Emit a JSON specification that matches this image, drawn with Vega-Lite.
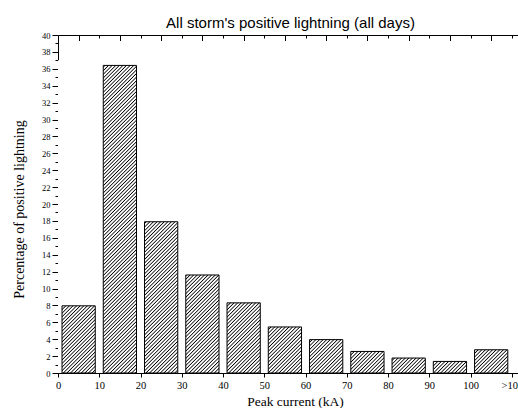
{
"$schema": "https://vega.github.io/schema/vega-lite/v6.json",
"width": 460,
"height": 338,
"autosize": {"type": "none"},
"padding": {"left": 58, "top": 35, "right": 0, "bottom": 35},
"title": {"text": "All storm's positive lightning (all days)", "font": "Liberation Sans", "fontSize": 15, "fontWeight": "normal", "color": "#000", "anchor": "middle", "frame": "group", "baseline": "alphabetic", "offset": 9, "dx": 2.5, "dy": 21},
"config": {"view": {"stroke": null}, "axis": {"zindex": 1, "grid": false, "domainColor": "#000", "tickColor": "#000", "labelColor": "#000", "titleColor": "#000", "domainWidth": 1, "tickWidth": 1}},
"data": {"values": [
{"start": 0, "end": 10, "pct": 7.95},
{"start": 10, "end": 20, "pct": 36.4},
{"start": 20, "end": 30, "pct": 17.9},
{"start": 30, "end": 40, "pct": 11.6},
{"start": 40, "end": 50, "pct": 8.3},
{"start": 50, "end": 60, "pct": 5.45},
{"start": 60, "end": 70, "pct": 3.95},
{"start": 70, "end": 80, "pct": 2.55},
{"start": 80, "end": 90, "pct": 1.77},
{"start": 90, "end": 100, "pct": 1.37},
{"start": 100, "end": 110, "pct": 2.75}
]},
"resolve": {"axis": {"x": "independent", "y": "independent"}},
"layer": [
{
"data": {"values": [{}]},
"mark": {"type": "rect", "stroke": null, "clip": true, "fill": {"gradient": "linear", "x1": 0, "y1": 0, "x2": 1.16712, "y2": 0.73442, "stops": [
{"offset":0.0540,"color":"#fff"},{"offset":0.0554,"color":"#000"},{"offset":0.0568,"color":"#fff"},
{"offset":0.0585,"color":"#fff"},{"offset":0.0599,"color":"#000"},{"offset":0.0613,"color":"#fff"},
{"offset":0.0630,"color":"#fff"},{"offset":0.0644,"color":"#000"},{"offset":0.0658,"color":"#fff"},
{"offset":0.0675,"color":"#fff"},{"offset":0.0689,"color":"#000"},{"offset":0.0703,"color":"#fff"},
{"offset":0.0720,"color":"#fff"},{"offset":0.0734,"color":"#000"},{"offset":0.0748,"color":"#fff"},
{"offset":0.0765,"color":"#fff"},{"offset":0.0779,"color":"#000"},{"offset":0.0793,"color":"#fff"},
{"offset":0.0810,"color":"#fff"},{"offset":0.0824,"color":"#000"},{"offset":0.0838,"color":"#fff"},
{"offset":0.0855,"color":"#fff"},{"offset":0.0869,"color":"#000"},{"offset":0.0883,"color":"#fff"},
{"offset":0.0900,"color":"#fff"},{"offset":0.0914,"color":"#000"},{"offset":0.0928,"color":"#fff"},
{"offset":0.0945,"color":"#fff"},{"offset":0.0959,"color":"#000"},{"offset":0.0973,"color":"#fff"},
{"offset":0.0990,"color":"#fff"},{"offset":0.1004,"color":"#000"},{"offset":0.1018,"color":"#fff"},
{"offset":0.1035,"color":"#fff"},{"offset":0.1049,"color":"#000"},{"offset":0.1063,"color":"#fff"},
{"offset":0.1080,"color":"#fff"},{"offset":0.1094,"color":"#000"},{"offset":0.1108,"color":"#fff"},
{"offset":0.1125,"color":"#fff"},{"offset":0.1139,"color":"#000"},{"offset":0.1153,"color":"#fff"},
{"offset":0.1170,"color":"#fff"},{"offset":0.1184,"color":"#000"},{"offset":0.1198,"color":"#fff"},
{"offset":0.1215,"color":"#fff"},{"offset":0.1229,"color":"#000"},{"offset":0.1243,"color":"#fff"},
{"offset":0.1260,"color":"#fff"},{"offset":0.1274,"color":"#000"},{"offset":0.1288,"color":"#fff"},
{"offset":0.1305,"color":"#fff"},{"offset":0.1319,"color":"#000"},{"offset":0.1333,"color":"#fff"},
{"offset":0.1350,"color":"#fff"},{"offset":0.1364,"color":"#000"},{"offset":0.1378,"color":"#fff"},
{"offset":0.1395,"color":"#fff"},{"offset":0.1409,"color":"#000"},{"offset":0.1423,"color":"#fff"},
{"offset":0.1440,"color":"#fff"},{"offset":0.1454,"color":"#000"},{"offset":0.1468,"color":"#fff"},
{"offset":0.1485,"color":"#fff"},{"offset":0.1499,"color":"#000"},{"offset":0.1513,"color":"#fff"},
{"offset":0.1530,"color":"#fff"},{"offset":0.1544,"color":"#000"},{"offset":0.1558,"color":"#fff"},
{"offset":0.1575,"color":"#fff"},{"offset":0.1589,"color":"#000"},{"offset":0.1603,"color":"#fff"},
{"offset":0.1620,"color":"#fff"},{"offset":0.1634,"color":"#000"},{"offset":0.1648,"color":"#fff"},
{"offset":0.1665,"color":"#fff"},{"offset":0.1679,"color":"#000"},{"offset":0.1693,"color":"#fff"},
{"offset":0.1710,"color":"#fff"},{"offset":0.1724,"color":"#000"},{"offset":0.1738,"color":"#fff"},
{"offset":0.1755,"color":"#fff"},{"offset":0.1769,"color":"#000"},{"offset":0.1783,"color":"#fff"},
{"offset":0.1800,"color":"#fff"},{"offset":0.1814,"color":"#000"},{"offset":0.1828,"color":"#fff"},
{"offset":0.1845,"color":"#fff"},{"offset":0.1859,"color":"#000"},{"offset":0.1873,"color":"#fff"},
{"offset":0.1890,"color":"#fff"},{"offset":0.1904,"color":"#000"},{"offset":0.1918,"color":"#fff"},
{"offset":0.1935,"color":"#fff"},{"offset":0.1949,"color":"#000"},{"offset":0.1963,"color":"#fff"},
{"offset":0.1980,"color":"#fff"},{"offset":0.1994,"color":"#000"},{"offset":0.2008,"color":"#fff"},
{"offset":0.2025,"color":"#fff"},{"offset":0.2039,"color":"#000"},{"offset":0.2053,"color":"#fff"},
{"offset":0.2070,"color":"#fff"},{"offset":0.2084,"color":"#000"},{"offset":0.2098,"color":"#fff"},
{"offset":0.2115,"color":"#fff"},{"offset":0.2129,"color":"#000"},{"offset":0.2143,"color":"#fff"},
{"offset":0.2160,"color":"#fff"},{"offset":0.2174,"color":"#000"},{"offset":0.2188,"color":"#fff"},
{"offset":0.2205,"color":"#fff"},{"offset":0.2219,"color":"#000"},{"offset":0.2233,"color":"#fff"},
{"offset":0.2250,"color":"#fff"},{"offset":0.2264,"color":"#000"},{"offset":0.2278,"color":"#fff"},
{"offset":0.2295,"color":"#fff"},{"offset":0.2309,"color":"#000"},{"offset":0.2323,"color":"#fff"},
{"offset":0.2340,"color":"#fff"},{"offset":0.2354,"color":"#000"},{"offset":0.2368,"color":"#fff"},
{"offset":0.2385,"color":"#fff"},{"offset":0.2399,"color":"#000"},{"offset":0.2413,"color":"#fff"},
{"offset":0.2430,"color":"#fff"},{"offset":0.2444,"color":"#000"},{"offset":0.2458,"color":"#fff"},
{"offset":0.2475,"color":"#fff"},{"offset":0.2489,"color":"#000"},{"offset":0.2503,"color":"#fff"},
{"offset":0.2520,"color":"#fff"},{"offset":0.2534,"color":"#000"},{"offset":0.2548,"color":"#fff"},
{"offset":0.2565,"color":"#fff"},{"offset":0.2579,"color":"#000"},{"offset":0.2593,"color":"#fff"},
{"offset":0.2610,"color":"#fff"},{"offset":0.2624,"color":"#000"},{"offset":0.2638,"color":"#fff"},
{"offset":0.2655,"color":"#fff"},{"offset":0.2669,"color":"#000"},{"offset":0.2683,"color":"#fff"},
{"offset":0.2700,"color":"#fff"},{"offset":0.2714,"color":"#000"},{"offset":0.2728,"color":"#fff"},
{"offset":0.2745,"color":"#fff"},{"offset":0.2759,"color":"#000"},{"offset":0.2773,"color":"#fff"},
{"offset":0.2790,"color":"#fff"},{"offset":0.2804,"color":"#000"},{"offset":0.2818,"color":"#fff"},
{"offset":0.2835,"color":"#fff"},{"offset":0.2849,"color":"#000"},{"offset":0.2863,"color":"#fff"},
{"offset":0.2880,"color":"#fff"},{"offset":0.2894,"color":"#000"},{"offset":0.2908,"color":"#fff"},
{"offset":0.2925,"color":"#fff"},{"offset":0.2939,"color":"#000"},{"offset":0.2953,"color":"#fff"},
{"offset":0.2970,"color":"#fff"},{"offset":0.2984,"color":"#000"},{"offset":0.2998,"color":"#fff"},
{"offset":0.3015,"color":"#fff"},{"offset":0.3029,"color":"#000"},{"offset":0.3043,"color":"#fff"},
{"offset":0.3060,"color":"#fff"},{"offset":0.3074,"color":"#000"},{"offset":0.3088,"color":"#fff"},
{"offset":0.3105,"color":"#fff"},{"offset":0.3119,"color":"#000"},{"offset":0.3133,"color":"#fff"},
{"offset":0.3150,"color":"#fff"},{"offset":0.3164,"color":"#000"},{"offset":0.3178,"color":"#fff"},
{"offset":0.3195,"color":"#fff"},{"offset":0.3209,"color":"#000"},{"offset":0.3223,"color":"#fff"},
{"offset":0.3240,"color":"#fff"},{"offset":0.3254,"color":"#000"},{"offset":0.3268,"color":"#fff"},
{"offset":0.3285,"color":"#fff"},{"offset":0.3299,"color":"#000"},{"offset":0.3313,"color":"#fff"},
{"offset":0.3330,"color":"#fff"},{"offset":0.3344,"color":"#000"},{"offset":0.3358,"color":"#fff"},
{"offset":0.3375,"color":"#fff"},{"offset":0.3389,"color":"#000"},{"offset":0.3403,"color":"#fff"},
{"offset":0.3420,"color":"#fff"},{"offset":0.3434,"color":"#000"},{"offset":0.3448,"color":"#fff"},
{"offset":0.3465,"color":"#fff"},{"offset":0.3479,"color":"#000"},{"offset":0.3493,"color":"#fff"},
{"offset":0.3510,"color":"#fff"},{"offset":0.3524,"color":"#000"},{"offset":0.3538,"color":"#fff"},
{"offset":0.3555,"color":"#fff"},{"offset":0.3569,"color":"#000"},{"offset":0.3583,"color":"#fff"},
{"offset":0.3600,"color":"#fff"},{"offset":0.3614,"color":"#000"},{"offset":0.3628,"color":"#fff"},
{"offset":0.3645,"color":"#fff"},{"offset":0.3659,"color":"#000"},{"offset":0.3673,"color":"#fff"},
{"offset":0.3690,"color":"#fff"},{"offset":0.3704,"color":"#000"},{"offset":0.3718,"color":"#fff"},
{"offset":0.3735,"color":"#fff"},{"offset":0.3749,"color":"#000"},{"offset":0.3763,"color":"#fff"},
{"offset":0.3780,"color":"#fff"},{"offset":0.3794,"color":"#000"},{"offset":0.3808,"color":"#fff"},
{"offset":0.3825,"color":"#fff"},{"offset":0.3839,"color":"#000"},{"offset":0.3853,"color":"#fff"},
{"offset":0.3870,"color":"#fff"},{"offset":0.3884,"color":"#000"},{"offset":0.3898,"color":"#fff"},
{"offset":0.3915,"color":"#fff"},{"offset":0.3929,"color":"#000"},{"offset":0.3943,"color":"#fff"},
{"offset":0.3960,"color":"#fff"},{"offset":0.3974,"color":"#000"},{"offset":0.3988,"color":"#fff"},
{"offset":0.4005,"color":"#fff"},{"offset":0.4019,"color":"#000"},{"offset":0.4033,"color":"#fff"},
{"offset":0.4050,"color":"#fff"},{"offset":0.4064,"color":"#000"},{"offset":0.4078,"color":"#fff"},
{"offset":0.4095,"color":"#fff"},{"offset":0.4109,"color":"#000"},{"offset":0.4123,"color":"#fff"},
{"offset":0.4140,"color":"#fff"},{"offset":0.4154,"color":"#000"},{"offset":0.4168,"color":"#fff"},
{"offset":0.4185,"color":"#fff"},{"offset":0.4199,"color":"#000"},{"offset":0.4213,"color":"#fff"},
{"offset":0.4230,"color":"#fff"},{"offset":0.4244,"color":"#000"},{"offset":0.4258,"color":"#fff"},
{"offset":0.4275,"color":"#fff"},{"offset":0.4289,"color":"#000"},{"offset":0.4303,"color":"#fff"},
{"offset":0.4320,"color":"#fff"},{"offset":0.4334,"color":"#000"},{"offset":0.4348,"color":"#fff"},
{"offset":0.4365,"color":"#fff"},{"offset":0.4379,"color":"#000"},{"offset":0.4393,"color":"#fff"},
{"offset":0.4410,"color":"#fff"},{"offset":0.4424,"color":"#000"},{"offset":0.4438,"color":"#fff"},
{"offset":0.4455,"color":"#fff"},{"offset":0.4469,"color":"#000"},{"offset":0.4483,"color":"#fff"},
{"offset":0.4500,"color":"#fff"},{"offset":0.4514,"color":"#000"},{"offset":0.4528,"color":"#fff"},
{"offset":0.4545,"color":"#fff"},{"offset":0.4559,"color":"#000"},{"offset":0.4573,"color":"#fff"},
{"offset":0.4590,"color":"#fff"},{"offset":0.4604,"color":"#000"},{"offset":0.4618,"color":"#fff"},
{"offset":0.4635,"color":"#fff"},{"offset":0.4649,"color":"#000"},{"offset":0.4663,"color":"#fff"},
{"offset":0.4680,"color":"#fff"},{"offset":0.4694,"color":"#000"},{"offset":0.4708,"color":"#fff"},
{"offset":0.4725,"color":"#fff"},{"offset":0.4739,"color":"#000"},{"offset":0.4753,"color":"#fff"},
{"offset":0.4770,"color":"#fff"},{"offset":0.4784,"color":"#000"},{"offset":0.4798,"color":"#fff"},
{"offset":0.4815,"color":"#fff"},{"offset":0.4829,"color":"#000"},{"offset":0.4843,"color":"#fff"},
{"offset":0.4860,"color":"#fff"},{"offset":0.4874,"color":"#000"},{"offset":0.4888,"color":"#fff"},
{"offset":0.4905,"color":"#fff"},{"offset":0.4919,"color":"#000"},{"offset":0.4933,"color":"#fff"},
{"offset":0.4950,"color":"#fff"},{"offset":0.4964,"color":"#000"},{"offset":0.4978,"color":"#fff"},
{"offset":0.4995,"color":"#fff"},{"offset":0.5009,"color":"#000"},{"offset":0.5023,"color":"#fff"},
{"offset":0.5040,"color":"#fff"},{"offset":0.5054,"color":"#000"},{"offset":0.5068,"color":"#fff"},
{"offset":0.5085,"color":"#fff"},{"offset":0.5099,"color":"#000"},{"offset":0.5113,"color":"#fff"},
{"offset":0.5130,"color":"#fff"},{"offset":0.5144,"color":"#000"},{"offset":0.5158,"color":"#fff"},
{"offset":0.5175,"color":"#fff"},{"offset":0.5189,"color":"#000"},{"offset":0.5203,"color":"#fff"},
{"offset":0.5220,"color":"#fff"},{"offset":0.5234,"color":"#000"},{"offset":0.5248,"color":"#fff"},
{"offset":0.5265,"color":"#fff"},{"offset":0.5279,"color":"#000"},{"offset":0.5293,"color":"#fff"},
{"offset":0.5310,"color":"#fff"},{"offset":0.5324,"color":"#000"},{"offset":0.5338,"color":"#fff"},
{"offset":0.5355,"color":"#fff"},{"offset":0.5369,"color":"#000"},{"offset":0.5383,"color":"#fff"},
{"offset":0.5400,"color":"#fff"},{"offset":0.5414,"color":"#000"},{"offset":0.5428,"color":"#fff"},
{"offset":0.5445,"color":"#fff"},{"offset":0.5459,"color":"#000"},{"offset":0.5473,"color":"#fff"},
{"offset":0.5490,"color":"#fff"},{"offset":0.5504,"color":"#000"},{"offset":0.5518,"color":"#fff"},
{"offset":0.5535,"color":"#fff"},{"offset":0.5549,"color":"#000"},{"offset":0.5563,"color":"#fff"},
{"offset":0.5580,"color":"#fff"},{"offset":0.5594,"color":"#000"},{"offset":0.5608,"color":"#fff"},
{"offset":0.5625,"color":"#fff"},{"offset":0.5639,"color":"#000"},{"offset":0.5653,"color":"#fff"},
{"offset":0.5670,"color":"#fff"},{"offset":0.5684,"color":"#000"},{"offset":0.5698,"color":"#fff"},
{"offset":0.5715,"color":"#fff"},{"offset":0.5729,"color":"#000"},{"offset":0.5743,"color":"#fff"},
{"offset":0.5760,"color":"#fff"},{"offset":0.5774,"color":"#000"},{"offset":0.5788,"color":"#fff"},
{"offset":0.5805,"color":"#fff"},{"offset":0.5819,"color":"#000"},{"offset":0.5833,"color":"#fff"},
{"offset":0.5850,"color":"#fff"},{"offset":0.5864,"color":"#000"},{"offset":0.5878,"color":"#fff"},
{"offset":0.5895,"color":"#fff"},{"offset":0.5909,"color":"#000"},{"offset":0.5923,"color":"#fff"},
{"offset":0.5940,"color":"#fff"},{"offset":0.5954,"color":"#000"},{"offset":0.5968,"color":"#fff"},
{"offset":0.5985,"color":"#fff"},{"offset":0.5999,"color":"#000"},{"offset":0.6013,"color":"#fff"},
{"offset":0.6030,"color":"#fff"},{"offset":0.6044,"color":"#000"},{"offset":0.6058,"color":"#fff"},
{"offset":0.6075,"color":"#fff"},{"offset":0.6089,"color":"#000"},{"offset":0.6103,"color":"#fff"},
{"offset":0.6120,"color":"#fff"},{"offset":0.6134,"color":"#000"},{"offset":0.6148,"color":"#fff"},
{"offset":0.6165,"color":"#fff"},{"offset":0.6179,"color":"#000"},{"offset":0.6193,"color":"#fff"},
{"offset":0.6210,"color":"#fff"},{"offset":0.6224,"color":"#000"},{"offset":0.6238,"color":"#fff"},
{"offset":0.6255,"color":"#fff"},{"offset":0.6269,"color":"#000"},{"offset":0.6283,"color":"#fff"},
{"offset":0.6300,"color":"#fff"},{"offset":0.6314,"color":"#000"},{"offset":0.6328,"color":"#fff"},
{"offset":0.6345,"color":"#fff"},{"offset":0.6359,"color":"#000"},{"offset":0.6373,"color":"#fff"},
{"offset":0.6390,"color":"#fff"},{"offset":0.6404,"color":"#000"},{"offset":0.6418,"color":"#fff"},
{"offset":0.6435,"color":"#fff"},{"offset":0.6449,"color":"#000"},{"offset":0.6463,"color":"#fff"},
{"offset":0.6480,"color":"#fff"},{"offset":0.6494,"color":"#000"},{"offset":0.6508,"color":"#fff"},
{"offset":0.6525,"color":"#fff"},{"offset":0.6539,"color":"#000"},{"offset":0.6553,"color":"#fff"},
{"offset":0.6570,"color":"#fff"},{"offset":0.6584,"color":"#000"},{"offset":0.6598,"color":"#fff"},
{"offset":0.6615,"color":"#fff"},{"offset":0.6629,"color":"#000"},{"offset":0.6643,"color":"#fff"},
{"offset":0.6660,"color":"#fff"},{"offset":0.6674,"color":"#000"},{"offset":0.6688,"color":"#fff"},
{"offset":0.6705,"color":"#fff"},{"offset":0.6719,"color":"#000"},{"offset":0.6733,"color":"#fff"},
{"offset":0.6750,"color":"#fff"},{"offset":0.6764,"color":"#000"},{"offset":0.6778,"color":"#fff"},
{"offset":0.6795,"color":"#fff"},{"offset":0.6809,"color":"#000"},{"offset":0.6823,"color":"#fff"},
{"offset":0.6840,"color":"#fff"},{"offset":0.6854,"color":"#000"},{"offset":0.6868,"color":"#fff"},
{"offset":0.6885,"color":"#fff"},{"offset":0.6899,"color":"#000"},{"offset":0.6913,"color":"#fff"},
{"offset":0.6930,"color":"#fff"},{"offset":0.6944,"color":"#000"},{"offset":0.6958,"color":"#fff"},
{"offset":0.6975,"color":"#fff"},{"offset":0.6989,"color":"#000"},{"offset":0.7003,"color":"#fff"},
{"offset":0.7020,"color":"#fff"},{"offset":0.7034,"color":"#000"},{"offset":0.7048,"color":"#fff"},
{"offset":0.7065,"color":"#fff"},{"offset":0.7079,"color":"#000"},{"offset":0.7093,"color":"#fff"},
{"offset":0.7110,"color":"#fff"},{"offset":0.7124,"color":"#000"},{"offset":0.7138,"color":"#fff"},
{"offset":0.7155,"color":"#fff"},{"offset":0.7169,"color":"#000"},{"offset":0.7183,"color":"#fff"},
{"offset":0.7200,"color":"#fff"},{"offset":0.7214,"color":"#000"},{"offset":0.7228,"color":"#fff"},
{"offset":0.7245,"color":"#fff"},{"offset":0.7259,"color":"#000"},{"offset":0.7273,"color":"#fff"},
{"offset":0.7290,"color":"#fff"},{"offset":0.7304,"color":"#000"},{"offset":0.7318,"color":"#fff"},
{"offset":0.7335,"color":"#fff"},{"offset":0.7349,"color":"#000"},{"offset":0.7363,"color":"#fff"},
{"offset":0.7380,"color":"#fff"},{"offset":0.7394,"color":"#000"},{"offset":0.7408,"color":"#fff"},
{"offset":0.7425,"color":"#fff"},{"offset":0.7439,"color":"#000"},{"offset":0.7453,"color":"#fff"},
{"offset":0.7470,"color":"#fff"},{"offset":0.7484,"color":"#000"},{"offset":0.7498,"color":"#fff"},
{"offset":0.7515,"color":"#fff"},{"offset":0.7529,"color":"#000"},{"offset":0.7543,"color":"#fff"},
{"offset":0.7560,"color":"#fff"},{"offset":0.7574,"color":"#000"},{"offset":0.7588,"color":"#fff"},
{"offset":0.7605,"color":"#fff"},{"offset":0.7619,"color":"#000"},{"offset":0.7633,"color":"#fff"},
{"offset":0.7650,"color":"#fff"},{"offset":0.7664,"color":"#000"},{"offset":0.7678,"color":"#fff"},
{"offset":0.7695,"color":"#fff"},{"offset":0.7709,"color":"#000"},{"offset":0.7723,"color":"#fff"},
{"offset":0.7740,"color":"#fff"},{"offset":0.7754,"color":"#000"},{"offset":0.7768,"color":"#fff"},
{"offset":0.7785,"color":"#fff"},{"offset":0.7799,"color":"#000"},{"offset":0.7813,"color":"#fff"},
{"offset":0.7830,"color":"#fff"},{"offset":0.7844,"color":"#000"},{"offset":0.7858,"color":"#fff"},
{"offset":0.7875,"color":"#fff"},{"offset":0.7889,"color":"#000"},{"offset":0.7903,"color":"#fff"},
{"offset":0.7920,"color":"#fff"},{"offset":0.7934,"color":"#000"},{"offset":0.7948,"color":"#fff"},
{"offset":0.7965,"color":"#fff"},{"offset":0.7979,"color":"#000"},{"offset":0.7993,"color":"#fff"},
{"offset":0.8010,"color":"#fff"},{"offset":0.8024,"color":"#000"},{"offset":0.8038,"color":"#fff"},
{"offset":0.8055,"color":"#fff"},{"offset":0.8069,"color":"#000"},{"offset":0.8083,"color":"#fff"},
{"offset":0.8100,"color":"#fff"},{"offset":0.8114,"color":"#000"},{"offset":0.8128,"color":"#fff"},
{"offset":0.8145,"color":"#fff"},{"offset":0.8159,"color":"#000"},{"offset":0.8173,"color":"#fff"},
{"offset":0.8190,"color":"#fff"},{"offset":0.8204,"color":"#000"},{"offset":0.8218,"color":"#fff"},
{"offset":0.8235,"color":"#fff"},{"offset":0.8249,"color":"#000"},{"offset":0.8263,"color":"#fff"},
{"offset":0.8280,"color":"#fff"},{"offset":0.8294,"color":"#000"},{"offset":0.8308,"color":"#fff"},
{"offset":0.8325,"color":"#fff"},{"offset":0.8339,"color":"#000"},{"offset":0.8353,"color":"#fff"},
{"offset":0.8370,"color":"#fff"},{"offset":0.8384,"color":"#000"},{"offset":0.8398,"color":"#fff"},
{"offset":0.8415,"color":"#fff"},{"offset":0.8429,"color":"#000"},{"offset":0.8443,"color":"#fff"},
{"offset":0.8460,"color":"#fff"},{"offset":0.8474,"color":"#000"},{"offset":0.8488,"color":"#fff"},
{"offset":0.8505,"color":"#fff"},{"offset":0.8519,"color":"#000"},{"offset":0.8533,"color":"#fff"},
{"offset":0.8550,"color":"#fff"},{"offset":0.8564,"color":"#000"},{"offset":0.8578,"color":"#fff"},
{"offset":0.8595,"color":"#fff"},{"offset":0.8609,"color":"#000"},{"offset":0.8623,"color":"#fff"},
{"offset":0.8640,"color":"#fff"},{"offset":0.8654,"color":"#000"},{"offset":0.8668,"color":"#fff"},
{"offset":0.8685,"color":"#fff"},{"offset":0.8699,"color":"#000"},{"offset":0.8713,"color":"#fff"},
{"offset":0.8730,"color":"#fff"},{"offset":0.8744,"color":"#000"},{"offset":0.8758,"color":"#fff"},
{"offset":0.8775,"color":"#fff"},{"offset":0.8789,"color":"#000"},{"offset":0.8803,"color":"#fff"},
{"offset":0.8820,"color":"#fff"},{"offset":0.8834,"color":"#000"},{"offset":0.8848,"color":"#fff"},
{"offset":0.8865,"color":"#fff"},{"offset":0.8879,"color":"#000"},{"offset":0.8893,"color":"#fff"},
{"offset":0.8910,"color":"#fff"},{"offset":0.8924,"color":"#000"},{"offset":0.8938,"color":"#fff"},
{"offset":0.8955,"color":"#fff"},{"offset":0.8969,"color":"#000"},{"offset":0.8983,"color":"#fff"},
{"offset":0.9000,"color":"#fff"},{"offset":0.9014,"color":"#000"},{"offset":0.9028,"color":"#fff"},
{"offset":0.9045,"color":"#fff"},{"offset":0.9059,"color":"#000"},{"offset":0.9073,"color":"#fff"},
{"offset":0.9090,"color":"#fff"},{"offset":0.9104,"color":"#000"},{"offset":0.9118,"color":"#fff"},
{"offset":0.9135,"color":"#fff"},{"offset":0.9149,"color":"#000"},{"offset":0.9163,"color":"#fff"},
{"offset":0.9180,"color":"#fff"},{"offset":0.9194,"color":"#000"},{"offset":0.9208,"color":"#fff"},
{"offset":0.9225,"color":"#fff"},{"offset":0.9239,"color":"#000"},{"offset":0.9253,"color":"#fff"},
{"offset":0.9270,"color":"#fff"},{"offset":0.9284,"color":"#000"},{"offset":0.9298,"color":"#fff"},
{"offset":0.9315,"color":"#fff"},{"offset":0.9329,"color":"#000"},{"offset":0.9343,"color":"#fff"},
{"offset":0.9360,"color":"#fff"},{"offset":0.9374,"color":"#000"},{"offset":0.9388,"color":"#fff"},
{"offset":0.9405,"color":"#fff"},{"offset":0.9419,"color":"#000"},{"offset":0.9433,"color":"#fff"},
{"offset":0.9450,"color":"#fff"},{"offset":0.9464,"color":"#000"},{"offset":0.9478,"color":"#fff"},
{"offset":0.9495,"color":"#fff"},{"offset":0.9509,"color":"#000"},{"offset":0.9523,"color":"#fff"},
{"offset":0.9540,"color":"#fff"},{"offset":0.9554,"color":"#000"},{"offset":0.9568,"color":"#fff"},
{"offset":0.9585,"color":"#fff"},{"offset":0.9599,"color":"#000"},{"offset":0.9613,"color":"#fff"},
{"offset":0.9630,"color":"#fff"},{"offset":0.9644,"color":"#000"},{"offset":0.9658,"color":"#fff"}
]}},
"encoding": {
"x": {"datum": 0, "type": "quantitative", "axis": null, "scale": {"domain": [0, 111.5], "nice": false, "zero": false}},
"x2": {"datum": 118.8},
"y": {"datum": 0, "type": "quantitative", "axis": null, "scale": {"domain": [0, 40], "nice": false, "zero": false}},
"y2": {"datum": 36.5}
}
},
{
"mark": {"type": "rect", "fill": "#fff", "stroke": null, "xOffset": 3, "x2Offset": -3, "clip": true},
"encoding": {
"x": {"field": "start", "type": "quantitative", "axis": {"orient": "top", "values": [5, 15, 25, 35, 45, 55, 65, 75, 85, 95, 105], "tickSize": -5.5, "labels": false, "domain": true, "title": null}},
"x2": {"field": "end"},
"y": {"field": "pct", "type": "quantitative", "axis": null},
"y2": {"datum": 37}
}
},
{
"mark": {"type": "rect", "fill": "#fff", "stroke": null, "xOffset": -4, "x2Offset": 4, "clip": true},
"encoding": {
"x": {"field": "start", "type": "quantitative", "axis": {"orient": "top", "values": [10, 20, 30, 40, 50, 60, 70, 80, 90, 100, 110], "tickSize": -3, "labels": false, "domain": false, "title": null}},
"x2": {"field": "start"},
"y": {"datum": 0, "type": "quantitative", "axis": {"orient": "left", "values": [1, 3, 5, 7, 9, 11, 13, 15, 17, 19, 21, 23, 25, 27, 29, 31, 33, 35, 37, 39], "tickSize": 3, "labels": false, "domain": false, "title": null}},
"y2": {"datum": 37}
}
},
{
"transform": [{"filter": "datum.start == 100"}],
"mark": {"type": "rect", "fill": "#fff", "stroke": null, "xOffset": -4, "x2Offset": 60, "clip": true},
"encoding": {
"x": {"field": "end", "type": "quantitative", "axis": null},
"x2": {"field": "end"},
"y": {"datum": 0, "type": "quantitative", "axis": null},
"y2": {"datum": 37}
}
},
{
"mark": {"type": "rect", "fill": "#fff", "fillOpacity": 0, "stroke": "#000", "strokeWidth": 1, "xOffset": 4, "x2Offset": -4},
"encoding": {
"x": {"field": "start", "type": "quantitative", "scale": {"domain": [0, 111.5], "nice": false, "zero": false}, "axis": {"orient": "bottom", "values": [0, 10, 20, 30, 40, 50, 60, 70, 80, 90, 100, 110], "labelExpr": "datum.value == 110 ? '>100' : datum.label", "tickSize": 4, "labelFont": "Liberation Serif", "labelFontSize": 10.5, "labelPadding": 3, "labelFlush": false, "labelOverlap": false, "labelBound": false, "title": "Peak current (kA)", "titleFont": "Liberation Serif", "titleFontSize": 13.5, "titleFontWeight": "normal", "titleX": 237, "titleY": 32, "titleBaseline": "alphabetic", "titleAlign": "center"}},
"x2": {"field": "end"},
"y": {"field": "pct", "type": "quantitative", "scale": {"domain": [0, 40], "nice": false, "zero": false}, "axis": {"orient": "left", "values": [0, 2, 4, 6, 8, 10, 12, 14, 16, 18, 20, 22, 24, 26, 28, 30, 32, 34, 36, 38, 40], "tickSize": 6, "labelFont": "Liberation Serif", "labelFontSize": 8.5, "labelPadding": 2, "labelFlush": false, "labelOverlap": false, "title": "Percentage of positive lightning", "titleFont": "Liberation Serif", "titleFontSize": 14, "titleFontWeight": "normal", "titleX": -34.5, "titleY": 174, "titleBaseline": "alphabetic", "titleAlign": "center", "titleAngle": -90}},
"y2": {"datum": 0}
}
}
]
}
